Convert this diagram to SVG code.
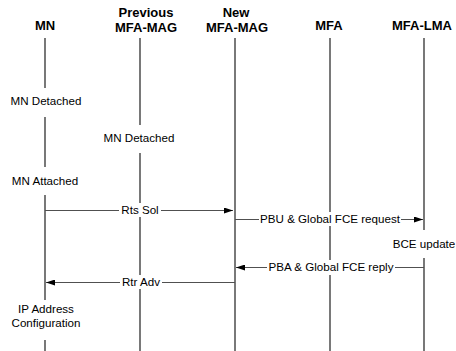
<svg xmlns="http://www.w3.org/2000/svg" width="456" height="351" viewBox="0 0 456 351">
<defs>
<style>
.hdr{font-family:"Liberation Sans",Arial,sans-serif;font-weight:bold;font-size:13px;fill:#000;text-anchor:middle}
.lbl{font-family:"Liberation Sans",Arial,sans-serif;font-size:11.6px;fill:#000;text-anchor:middle}
.life{stroke:#404040;stroke-width:1.4;fill:none}
.msg{stroke:#505050;stroke-width:1.2;fill:none}
.bg{fill:#fff}
</style>
<marker id="ah" markerWidth="9" markerHeight="6" refX="9" refY="3" orient="auto" markerUnits="userSpaceOnUse">
<path d="M0,0 L9,3 L0,6 Z" fill="#000"/>
</marker>
</defs>
<rect width="456" height="351" fill="#fff"/>
<g id="node-mn">
<text class="hdr" x="45" y="30">MN</text>
<path class="life" d="M45,38 V88 M45,117 V167 M45,195 V300 M45,340 V351"/>
<text class="lbl" x="46" y="105">MN Detached</text>
<text class="lbl" x="45" y="185">MN Attached</text>
<text class="lbl" x="46" y="313">IP Address</text>
<text class="lbl" x="46" y="327">Configuration</text>
</g>
<g id="node-prev-mag">
<text class="hdr" x="146" y="17">Previous</text>
<text class="hdr" x="146" y="32">MFA-MAG</text>
<path class="life" d="M140,38 V125 M140,153 V351"/>
<text class="lbl" x="139" y="142">MN Detached</text>
</g>
<g id="node-new-mag">
<text class="hdr" x="236" y="17">New</text>
<text class="hdr" x="237" y="32">MFA-MAG</text>
<path class="life" d="M235,38 V351"/>
</g>
<g id="node-mfa">
<text class="hdr" x="329" y="30">MFA</text>
<path class="life" d="M330,38 V351"/>
</g>
<g id="node-mfa-lma">
<text class="hdr" x="422" y="30">MFA-LMA</text>
<path class="life" d="M424,38 V230 M424,258 V351"/>
<text class="lbl" x="424" y="248">BCE update</text>
</g>
<g id="connectors">
<line class="msg" x1="45" y1="210.5" x2="233" y2="210.5" marker-end="url(#ah)"/>
<rect class="bg" x="119" y="203" width="42" height="14"/>
<text class="lbl" x="140" y="214">Rts Sol</text>
<line class="msg" x1="235" y1="219.5" x2="423" y2="219.5" marker-end="url(#ah)"/>
<rect class="bg" x="259" y="212" width="142" height="14"/>
<text class="lbl" x="330" y="223">PBU &amp; Global FCE request</text>
<line class="msg" x1="424" y1="267.5" x2="236" y2="267.5" marker-end="url(#ah)"/>
<rect class="bg" x="267" y="260" width="128" height="15"/>
<text class="lbl" x="331" y="271">PBA &amp; Global FCE reply</text>
<line class="msg" x1="235" y1="282.5" x2="46" y2="282.5" marker-end="url(#ah)"/>
<rect class="bg" x="120" y="275" width="42" height="14"/>
<text class="lbl" x="141" y="286">Rtr Adv</text>
</g>
</svg>
